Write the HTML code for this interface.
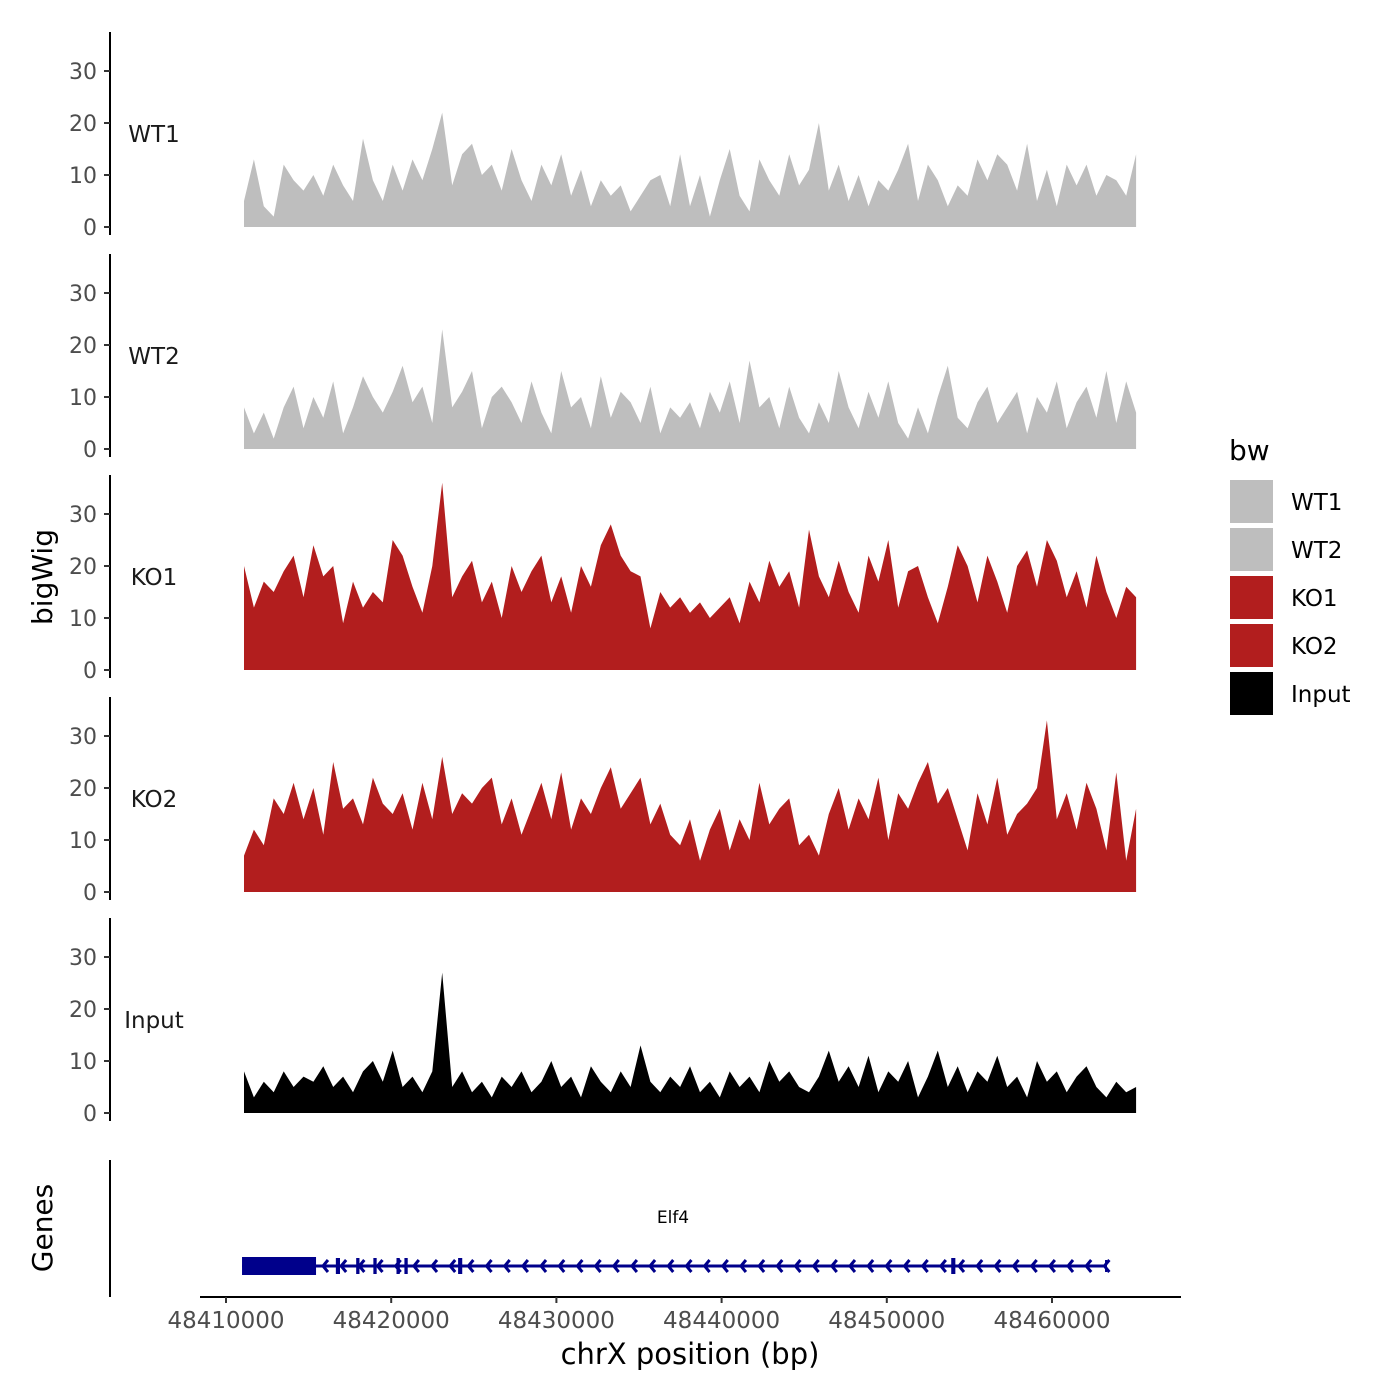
<!DOCTYPE html>
<html><head><meta charset="utf-8"><style>
html,body{margin:0;padding:0;background:#fff;}
svg{display:block;font-family:"DejaVu Sans","Liberation Sans",sans-serif;}
</style></head><body>
<svg id="chart" width="1400" height="1400" viewBox="0 0 1400 1400"></svg>
<script>
const trackNames = ["WT1","WT2","KO1","KO2","Input"];
const trackColors = ["#bebebe","#bebebe","#b21e1e","#b21e1e","#000000"];
const wt1 = [5,13,4,2,12,9,7,10,6,12,8,5,17,9,5,12,7,13,9,15,22,8,14,16,10,12,7,15,9,5,12,8,14,6,11,4,9,6,8,3,6,9,10,4,14,4,10,2,9,15,6,3,13,9,6,14,8,11,20,7,12,5,10,4,9,7,11,16,5,12,9,4,8,6,13,9,14,12,7,16,5,11,4,12,8,12,6,10,9,6,14];
const wt2 = [8,3,7,2,8,12,4,10,6,13,3,8,14,10,7,11,16,9,12,5,23,8,11,15,4,10,12,9,5,13,7,3,15,8,10,4,14,6,11,9,5,12,3,8,6,9,4,11,7,13,5,17,8,10,4,12,6,3,9,5,15,8,4,11,6,13,5,2,8,3,10,16,6,4,9,12,5,8,11,3,10,7,13,4,9,12,6,15,5,13,7];
const ko1 = [20,12,17,15,19,22,14,24,18,20,9,17,12,15,13,25,22,16,11,20,36,14,18,21,13,17,10,20,15,19,22,13,18,11,20,16,24,28,22,19,18,8,15,12,14,11,13,10,12,14,9,17,13,21,16,19,12,27,18,14,21,15,11,22,17,25,12,19,20,14,9,16,24,20,13,22,17,11,20,23,16,25,21,14,19,12,22,15,10,16,14];
const ko2 = [7,12,9,18,15,21,14,20,11,25,16,18,13,22,17,15,19,12,21,14,26,15,19,17,20,22,13,18,11,16,21,14,23,12,18,15,20,24,16,19,22,13,17,11,9,14,6,12,16,8,14,10,21,13,16,18,9,11,7,15,20,12,18,14,22,10,19,16,21,25,17,20,14,8,19,13,22,11,15,17,20,33,14,19,12,21,16,8,23,6,16];
const input = [8,3,6,4,8,5,7,6,9,5,7,4,8,10,6,12,5,7,4,8,27,5,8,4,6,3,7,5,8,4,6,10,5,7,3,9,6,4,8,5,13,6,4,7,5,9,4,6,3,8,5,7,4,10,6,8,5,4,7,12,6,9,5,11,4,8,6,10,3,7,12,5,9,4,8,6,11,5,7,3,10,6,8,4,7,9,5,3,6,4,5];
const series = [wt1,wt2,ko1,ko2,input];
const yTicks = [0,10,20,30];
const xTicks = [48410000,48420000,48430000,48440000,48450000,48460000];
const dataStart = 48411090, dataEnd = 48465090;
const geneStart = 48410970, geneEnd = 48463270;
const exonStarts = [48410970,48416650,48417880,48418920,48420320,48420800,48424050,48453900];
const exonEnds = [48415450,48416900,48418080,48419120,48420520,48421000,48424300,48454150];

const svg = document.getElementById('chart');
const NS = 'http://www.w3.org/2000/svg';
function mk(tag, attrs, parent){const e=document.createElementNS(NS,tag);for(const k in attrs)e.setAttribute(k,attrs[k]);(parent||svg).appendChild(e);return e;}
function xScale(bp){return 226 + (bp-48410000)*0.01652;}
const zeroY = [227,449,670,892,1113];
function yScale(p,v){return zeroY[p] - v*5.2;}

for(let p=0;p<5;p++){
  const g = mk('g',{});
  
  
  const d = series[p]; const n = d.length;
  let path = 'M'+xScale(dataStart)+','+zeroY[p];
  for(let i=0;i<n;i++){const bp=dataStart+i*(dataEnd-dataStart)/(n-1);path+=' L'+xScale(bp).toFixed(1)+','+yScale(p,d[i]).toFixed(1);}
  path += ' L'+xScale(dataEnd)+','+zeroY[p]+' Z';
  const a = mk('path',{d:path,fill:trackColors[p]},g);
  
  
  const ax = mk('line',{x1:110,x2:110,y1:zeroY[p]-195,y2:zeroY[p]+8,stroke:'#000','stroke-width':2},g);
  
  
  for(const t of yTicks){
    const y=yScale(p,t);
    mk('line',{x1:104,x2:110,y1:y,y2:y,stroke:'#333','stroke-width':2},g);
    const tl=mk('text',{x:97,y:y+8,'text-anchor':'end','font-size':22,fill:'#4d4d4d'},g);
    tl.textContent=t;
    
    
  }
  const lab=mk('text',{x:154,y:zeroY[p]-85,'text-anchor':'middle','font-size':23,fill:'#1a1a1a'},g);
  lab.textContent=trackNames[p];
  
  
}
const yt=mk('text',{x:0,y:0,transform:'translate(52,577) rotate(-90)','text-anchor':'middle','font-size':28,fill:'#000'});
yt.textContent='bigWig';


const gt=mk('text',{x:0,y:0,transform:'translate(52,1228) rotate(-90)','text-anchor':'middle','font-size':28,fill:'#000'});
gt.textContent='Genes';


const gl=mk('line',{x1:110,x2:110,y1:1160,y2:1297,stroke:'#000','stroke-width':2});


const gene=mk('g',{});


mk('line',{x1:xScale(geneStart),x2:xScale(geneEnd),y1:1266,y2:1266,stroke:'#00008b','stroke-width':3},gene);
for(let bp=geneStart+4900; bp<geneEnd; bp+=1100){
  const x=xScale(bp);
  mk('polyline',{points:(x+5)+',1260 '+x+',1266 '+(x+5)+',1272',fill:'none',stroke:'#00008b','stroke-width':3},gene);
}
mk('line',{x1:xScale(geneEnd),x2:xScale(geneEnd),y1:1260,y2:1272,stroke:'#00008b','stroke-width':2},gene);
for(let i=0;i<exonStarts.length;i++){
  const h = i===0?18:16;
  mk('rect',{x:xScale(exonStarts[i]),y:1266-h/2,width:Math.max(3,xScale(exonEnds[i])-xScale(exonStarts[i])),height:h,fill:'#00008b'},gene);
}
const gn=mk('text',{x:673,y:1223,'text-anchor':'middle','font-size':17,fill:'#000'});
gn.textContent='Elf4';


const xa=mk('line',{x1:200,x2:1181,y1:1297,y2:1297,stroke:'#000','stroke-width':2});


for(const t of xTicks){
  const x=xScale(t);
  mk('line',{x1:x,x2:x,y1:1297,y2:1303,stroke:'#333','stroke-width':2});
  const tl=mk('text',{x:x,y:1328,'text-anchor':'middle','font-size':23,fill:'#4d4d4d'});
  tl.textContent=t;
  
  
}
const xt=mk('text',{x:690,y:1364,'text-anchor':'middle','font-size':29,fill:'#000'});
xt.textContent='chrX position (bp)';


const lg=mk('g',{});


const lt=mk('text',{x:1229,y:460,'font-size':28,fill:'#000'},lg);
lt.textContent='bw';


for(let i=0;i<5;i++){
  const y=480+i*48;
  const r=mk('rect',{x:1230,y:y,width:43,height:43,fill:trackColors[i]},lg);
  
  
  const t=mk('text',{x:1291,y:y+30,'font-size':23,fill:'#000'},lg);
  t.textContent=trackNames[i];
  
  
}
</script>
</body></html>
